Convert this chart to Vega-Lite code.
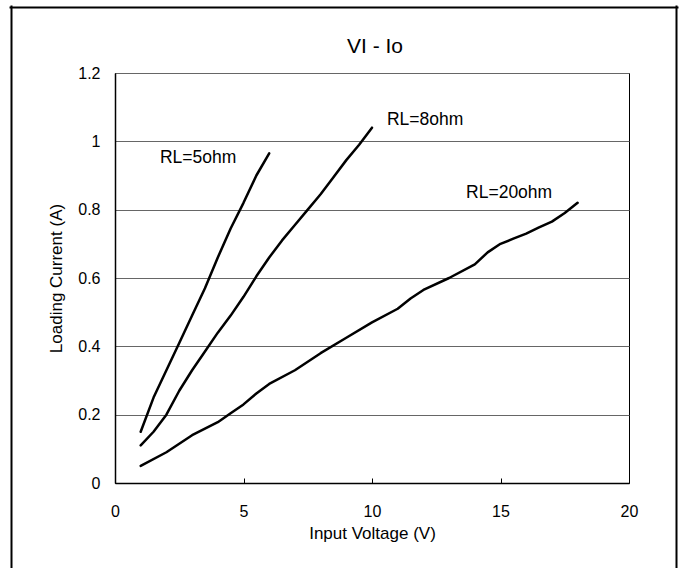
{
  "$schema": "https://vega.github.io/schema/vega-lite/v6.json",
  "autosize": "none",
  "width": 514,
  "height": 410,
  "padding": {"left": 115, "top": 73, "right": 53, "bottom": 85},
  "background": "white",
  "title": {
    "text": "VI - Io",
    "font": "Liberation Sans",
    "fontSize": 21,
    "fontWeight": "normal",
    "color": "#000",
    "baseline": "alphabetic",
    "anchor": "middle",
    "frame": "group",
    "dx": 3,
    "offset": -67
  },
  "datasets": {
    "curves": [
      {"load": "RL=5ohm", "v": 1, "i": 0.15},
      {"load": "RL=5ohm", "v": 1.5, "i": 0.25},
      {"load": "RL=5ohm", "v": 2, "i": 0.33},
      {"load": "RL=5ohm", "v": 2.5, "i": 0.41},
      {"load": "RL=5ohm", "v": 3, "i": 0.49},
      {"load": "RL=5ohm", "v": 3.5, "i": 0.57},
      {"load": "RL=5ohm", "v": 4, "i": 0.66},
      {"load": "RL=5ohm", "v": 4.5, "i": 0.745},
      {"load": "RL=5ohm", "v": 5, "i": 0.82},
      {"load": "RL=5ohm", "v": 5.5, "i": 0.9},
      {"load": "RL=5ohm", "v": 6, "i": 0.965},
      {"load": "RL=8ohm", "v": 1, "i": 0.11},
      {"load": "RL=8ohm", "v": 1.5, "i": 0.15},
      {"load": "RL=8ohm", "v": 2, "i": 0.2},
      {"load": "RL=8ohm", "v": 2.5, "i": 0.27},
      {"load": "RL=8ohm", "v": 3, "i": 0.33},
      {"load": "RL=8ohm", "v": 3.5, "i": 0.385},
      {"load": "RL=8ohm", "v": 4, "i": 0.44},
      {"load": "RL=8ohm", "v": 4.5, "i": 0.49},
      {"load": "RL=8ohm", "v": 5, "i": 0.545},
      {"load": "RL=8ohm", "v": 5.5, "i": 0.605},
      {"load": "RL=8ohm", "v": 6, "i": 0.66},
      {"load": "RL=8ohm", "v": 6.5, "i": 0.71},
      {"load": "RL=8ohm", "v": 7, "i": 0.755},
      {"load": "RL=8ohm", "v": 7.5, "i": 0.8},
      {"load": "RL=8ohm", "v": 8, "i": 0.845},
      {"load": "RL=8ohm", "v": 8.5, "i": 0.895},
      {"load": "RL=8ohm", "v": 9, "i": 0.945},
      {"load": "RL=8ohm", "v": 9.5, "i": 0.99},
      {"load": "RL=8ohm", "v": 10, "i": 1.04},
      {"load": "RL=20ohm", "v": 1, "i": 0.05},
      {"load": "RL=20ohm", "v": 2, "i": 0.09},
      {"load": "RL=20ohm", "v": 3, "i": 0.14},
      {"load": "RL=20ohm", "v": 4, "i": 0.178},
      {"load": "RL=20ohm", "v": 4.5, "i": 0.204},
      {"load": "RL=20ohm", "v": 5, "i": 0.23},
      {"load": "RL=20ohm", "v": 5.5, "i": 0.262},
      {"load": "RL=20ohm", "v": 6, "i": 0.29},
      {"load": "RL=20ohm", "v": 7, "i": 0.33},
      {"load": "RL=20ohm", "v": 8, "i": 0.38},
      {"load": "RL=20ohm", "v": 9, "i": 0.425},
      {"load": "RL=20ohm", "v": 10, "i": 0.47},
      {"load": "RL=20ohm", "v": 11, "i": 0.51},
      {"load": "RL=20ohm", "v": 11.5, "i": 0.54},
      {"load": "RL=20ohm", "v": 12, "i": 0.565},
      {"load": "RL=20ohm", "v": 13, "i": 0.6},
      {"load": "RL=20ohm", "v": 14, "i": 0.64},
      {"load": "RL=20ohm", "v": 14.5, "i": 0.675},
      {"load": "RL=20ohm", "v": 15, "i": 0.7},
      {"load": "RL=20ohm", "v": 15.5, "i": 0.715},
      {"load": "RL=20ohm", "v": 16, "i": 0.73},
      {"load": "RL=20ohm", "v": 16.5, "i": 0.748},
      {"load": "RL=20ohm", "v": 17, "i": 0.765},
      {"load": "RL=20ohm", "v": 17.5, "i": 0.79},
      {"load": "RL=20ohm", "v": 18, "i": 0.82}
    ],
    "curveLabels": [
      {"load": "RL=5ohm", "v": 1.75, "i": 0.95},
      {"load": "RL=8ohm", "v": 10.58, "i": 1.063},
      {"load": "RL=20ohm", "v": 13.66, "i": 0.85}
    ]
  },
  "config": {
    "font": "Liberation Sans",
    "view": {"stroke": "#000", "strokeWidth": 1},
    "axis": {
      "labelFont": "Liberation Sans",
      "titleFont": "Liberation Sans",
      "labelColor": "#000",
      "titleColor": "#000",
      "titleFontWeight": "normal",
      "domainColor": "#000",
      "labelFlush": false
    }
  },
  "resolve": {
    "scale": {"x": "independent", "y": "independent"},
    "axis": {"x": "independent", "y": "independent"}
  },
  "layer": [
    {
      "layer": [
        {
          "data": {"name": "curves"},
          "mark": {"type": "line", "color": "#000", "strokeWidth": 2.5, "strokeJoin": "round", "strokeCap": "round"},
          "encoding": {
            "x": {
              "field": "v",
              "type": "quantitative",
              "scale": {"domain": [0, 20], "nice": false, "zero": false},
              "axis": {
                "title": "Input Voltage (V)",
                "values": [0, 5, 10, 15, 20],
                "grid": false,
                "labelFlush": false,
                "tickSize": -5,
                "tickColor": "#000",
                "tickWidth": 1,
                "labelPadding": 25,
                "labelFontSize": 16,
                "titleFontSize": 17,
                "titlePadding": 6,
                "domainWidth": 1.5
              }
            },
            "y": {
              "field": "i",
              "type": "quantitative",
              "scale": {"domain": [0, 1.2], "nice": false},
              "axis": {
                "title": "Loading Current (A)",
                "values": [0, 0.2, 0.4, 0.6, 0.8, 1, 1.2],
                "format": "~g",
                "labelFlush": false,
                "ticks": false,
                "grid": true,
                "gridColor": "#666",
                "gridWidth": 1,
                "labelPadding": 15,
                "labelFontSize": 16,
                "titleFontSize": 17,
                "titlePadding": 12,
                "domainWidth": 1.5
              }
            },
            "detail": {"field": "load"}
          }
        },
        {
          "data": {"name": "curveLabels"},
          "mark": {"type": "text", "align": "left", "baseline": "middle", "fontSize": 17.5, "color": "#000"},
          "encoding": {
            "x": {"field": "v", "type": "quantitative"},
            "y": {"field": "i", "type": "quantitative"},
            "text": {"field": "load"}
          }
        }
      ]
    },
    {
      "data": {"values": []},
      "mark": "rule",
      "encoding": {
        "x": {
          "field": "f",
          "type": "quantitative",
          "scale": {"domain": [0, 1], "range": [-106, 563]},
          "axis": {"orient": "top", "offset": 66, "domainWidth": 2, "domainColor": "#000", "ticks": false, "labels": false, "grid": false, "title": null}
        },
        "y": {
          "field": "f",
          "type": "quantitative",
          "scale": {"domain": [0, 1], "range": [640, -68]},
          "axis": {"orient": "left", "offset": 104, "domainWidth": 2, "domainColor": "#000", "ticks": false, "labels": false, "grid": false, "title": null}
        }
      }
    },
    {
      "data": {"values": []},
      "mark": "rule",
      "encoding": {
        "y": {
          "field": "g",
          "type": "quantitative",
          "scale": {"domain": [0, 1], "range": [640, -68]},
          "axis": {"orient": "right", "offset": 47, "domainWidth": 2, "domainColor": "#000", "ticks": false, "labels": false, "grid": false, "title": null}
        }
      }
    }
  ]
}
